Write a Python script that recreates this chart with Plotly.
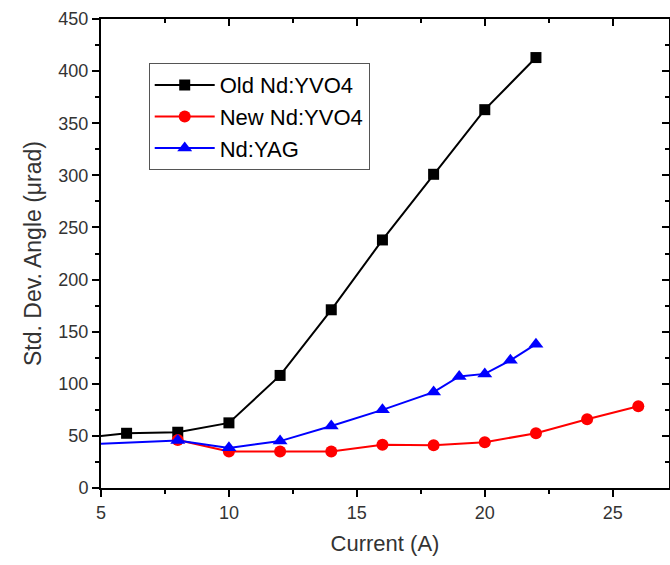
import plotly.graph_objects as go

# Data
old_x = [4, 6, 8, 10, 12, 14, 16, 18, 20, 22]
old_y = [47.5, 52.5, 53.5, 62.5, 108, 171, 238, 301, 363, 413]

new_x = [8, 10, 12, 14, 16, 18, 20, 22, 24, 26]
new_y = [46, 35, 35, 35, 41.5, 41, 44, 52.5, 66, 78.5]

yag_x = [4, 8, 10, 12, 14, 16, 18, 19, 20, 21, 22]
yag_y = [41.5, 45.5, 38.5, 45, 59.5, 75, 92, 107, 109.5, 122.5, 138]

x_range = [5, 27.2]
y_range = [0, 450]

FONT = "Liberation Sans, Arial, sans-serif"

fig = go.Figure()
fig.add_trace(go.Scatter(x=old_x, y=old_y, name="Old Nd:YVO4", mode="lines+markers",
                         line=dict(color="black", width=2),
                         marker=dict(symbol="square", size=11, color="black")))
fig.add_trace(go.Scatter(x=new_x, y=new_y, name="New Nd:YVO4", mode="lines+markers",
                         line=dict(color="#ff0000", width=2),
                         marker=dict(symbol="circle", size=12, color="#ff0000")))
fig.add_trace(go.Scatter(x=yag_x, y=yag_y, name="Nd:YAG", mode="lines+markers",
                         line=dict(color="#0000ff", width=2),
                         marker=dict(symbol="triangle-up", size=13, color="#0000ff")))
# invisible trace for mirrored top/right axes
fig.add_trace(go.Scatter(x=[None], y=[None], xaxis="x2", yaxis="y2",
                         showlegend=False, hoverinfo="skip"))

axis_common = dict(showline=True, linecolor="black", linewidth=2, showgrid=False,
                   zeroline=False)

fig.update_layout(
    width=670, height=565,
    margin=dict(l=101, r=1, t=19, b=77),
    plot_bgcolor="white", paper_bgcolor="white",
    font=dict(family=FONT, color="#333333"),
    xaxis=dict(range=x_range, dtick=5, tick0=5, ticks="outside", ticklen=7, tickwidth=2,
               tickcolor="black", tickfont=dict(size=18, color="#333333"),
               minor=dict(dtick=2.5, tick0=5, ticks="outside", ticklen=4, tickwidth=2,
                          tickcolor="black"),
               title=dict(text="Current (A)", font=dict(size=22, color="#333333"), standoff=14),
               **axis_common),
    yaxis=dict(range=y_range, dtick=50, ticks="outside", ticklen=7, tickwidth=2,
               tickcolor="black", tickfont=dict(size=18, color="#333333"),
               minor=dict(dtick=25, ticks="outside", ticklen=4, tickwidth=2,
                          tickcolor="black"),
               title=dict(text="Std. Dev. Angle (μrad)", font=dict(size=23, color="#333333"),
                          standoff=10),
               **axis_common),
    xaxis2=dict(range=x_range, overlaying="x", side="top", dtick=5, tick0=5, ticks="inside",
                ticklen=7, tickwidth=2, tickcolor="black", showticklabels=False,
                minor=dict(dtick=2.5, tick0=5, ticks="inside", ticklen=4, tickwidth=2,
                           tickcolor="black"),
                **axis_common),
    yaxis2=dict(range=y_range, overlaying="y", side="right", dtick=50, ticks="inside",
                ticklen=7, tickwidth=2, tickcolor="black", showticklabels=False,
                minor=dict(dtick=25, ticks="inside", ticklen=4, tickwidth=2,
                           tickcolor="black"),
                **axis_common),
    legend=dict(x=0.084, y=0.906, xanchor="left", yanchor="top",
                bgcolor="white", bordercolor="#555555", borderwidth=1,
                font=dict(size=22, color="black", family=FONT),
                tracegroupgap=0, itemwidth=60),
    showlegend=True,
)

fig.write_html("out.html")
